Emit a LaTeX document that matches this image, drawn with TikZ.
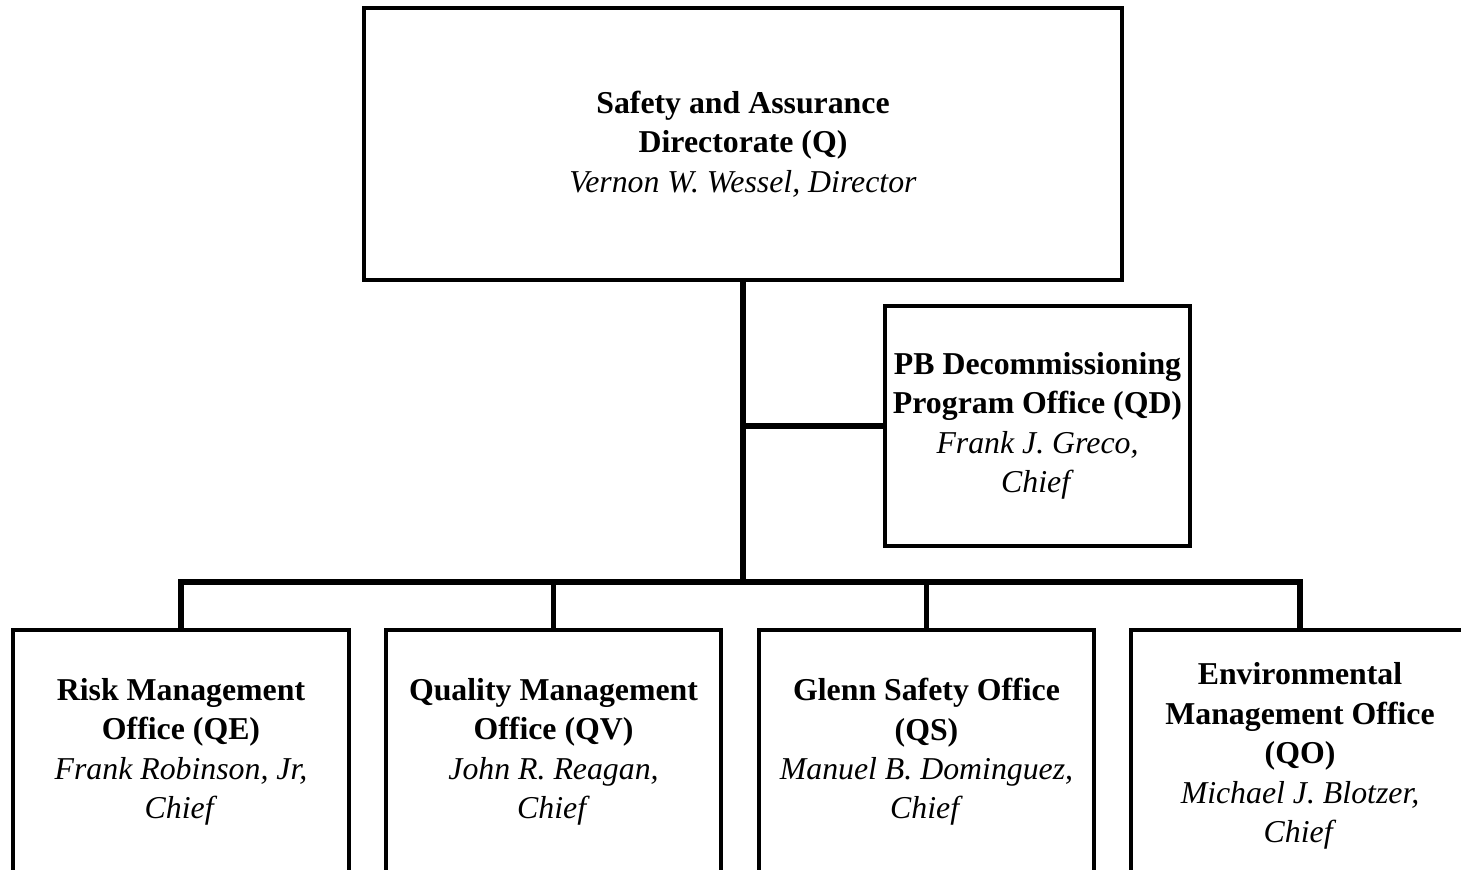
\documentclass[tikz,border=0pt]{standalone}
\usepackage{fontspec}
\setmainfont{Liberation Serif}

\begin{document}
\begin{tikzpicture}
\tikzset{box/.style = {draw, line width=0.9pt, align=center, inner sep=0pt,
  font=\fontsize{9.05}{11.2}\selectfont}}
\tikzset{link/.style = {line width=1.5pt}}
\useasboundingbox (0,0) rectangle (14.61,8.69);
\clip (0,0) rectangle (14.61,8.69);
% director
\node [box, minimum width=7.58cm, minimum height=2.72cm] (q) at (7.43,7.25)
  {\textbf{Safety and Assurance}\\\textbf{Directorate (Q)}\\\textit{Vernon W. Wessel, Director}};
% staff office
\node [box, minimum width=3.05cm, minimum height=2.40cm] (qd) at (10.375,4.43)
  {\textbf{PB Decommissioning}\\\textbf{Program Office (QD)}\\\textit{Frank J. Greco,}\\\textit{Chief}};
% offices
\node [box, minimum width=3.36cm, minimum height=2.44cm] (qe) at (1.81,1.17)
  {\textbf{Risk Management}\\\textbf{Office (QE)}\\\textit{Frank Robinson, Jr,}\\\textit{Chief}};
\node [box, minimum width=3.35cm, minimum height=2.44cm] (qv) at (5.535,1.17)
  {\textbf{Quality Management}\\\textbf{Office (QV)}\\\textit{John R. Reagan,}\\\textit{Chief}};
\node [box, minimum width=3.35cm, minimum height=2.44cm] (qs) at (9.265,1.17)
  {\textbf{Glenn Safety Office}\\\textbf{(QS)}\\\textit{Manuel B. Dominguez,}\\\textit{Chief}};
\node [box, minimum width=3.38cm, minimum height=2.52cm] (qo) at (13.0,1.13)
  {\textbf{Environmental}\\\textbf{Management Office}\\\textbf{(QO)}\\\textit{Michael J. Blotzer,}\\\textit{Chief}};
% lines
\coordinate (bus) at (7.43,2.87);
\draw [link] (q.south) -- (bus);
\draw [link] (qd.west) -- (qd.west -| bus);
\draw [link] (qe.north) |- (bus) -| (qo.north);
\draw [link] (bus -| qv.north) -- (qv.north);
\draw [link] (bus -| qs.north) -- (qs.north);
\end{tikzpicture}
\end{document}
